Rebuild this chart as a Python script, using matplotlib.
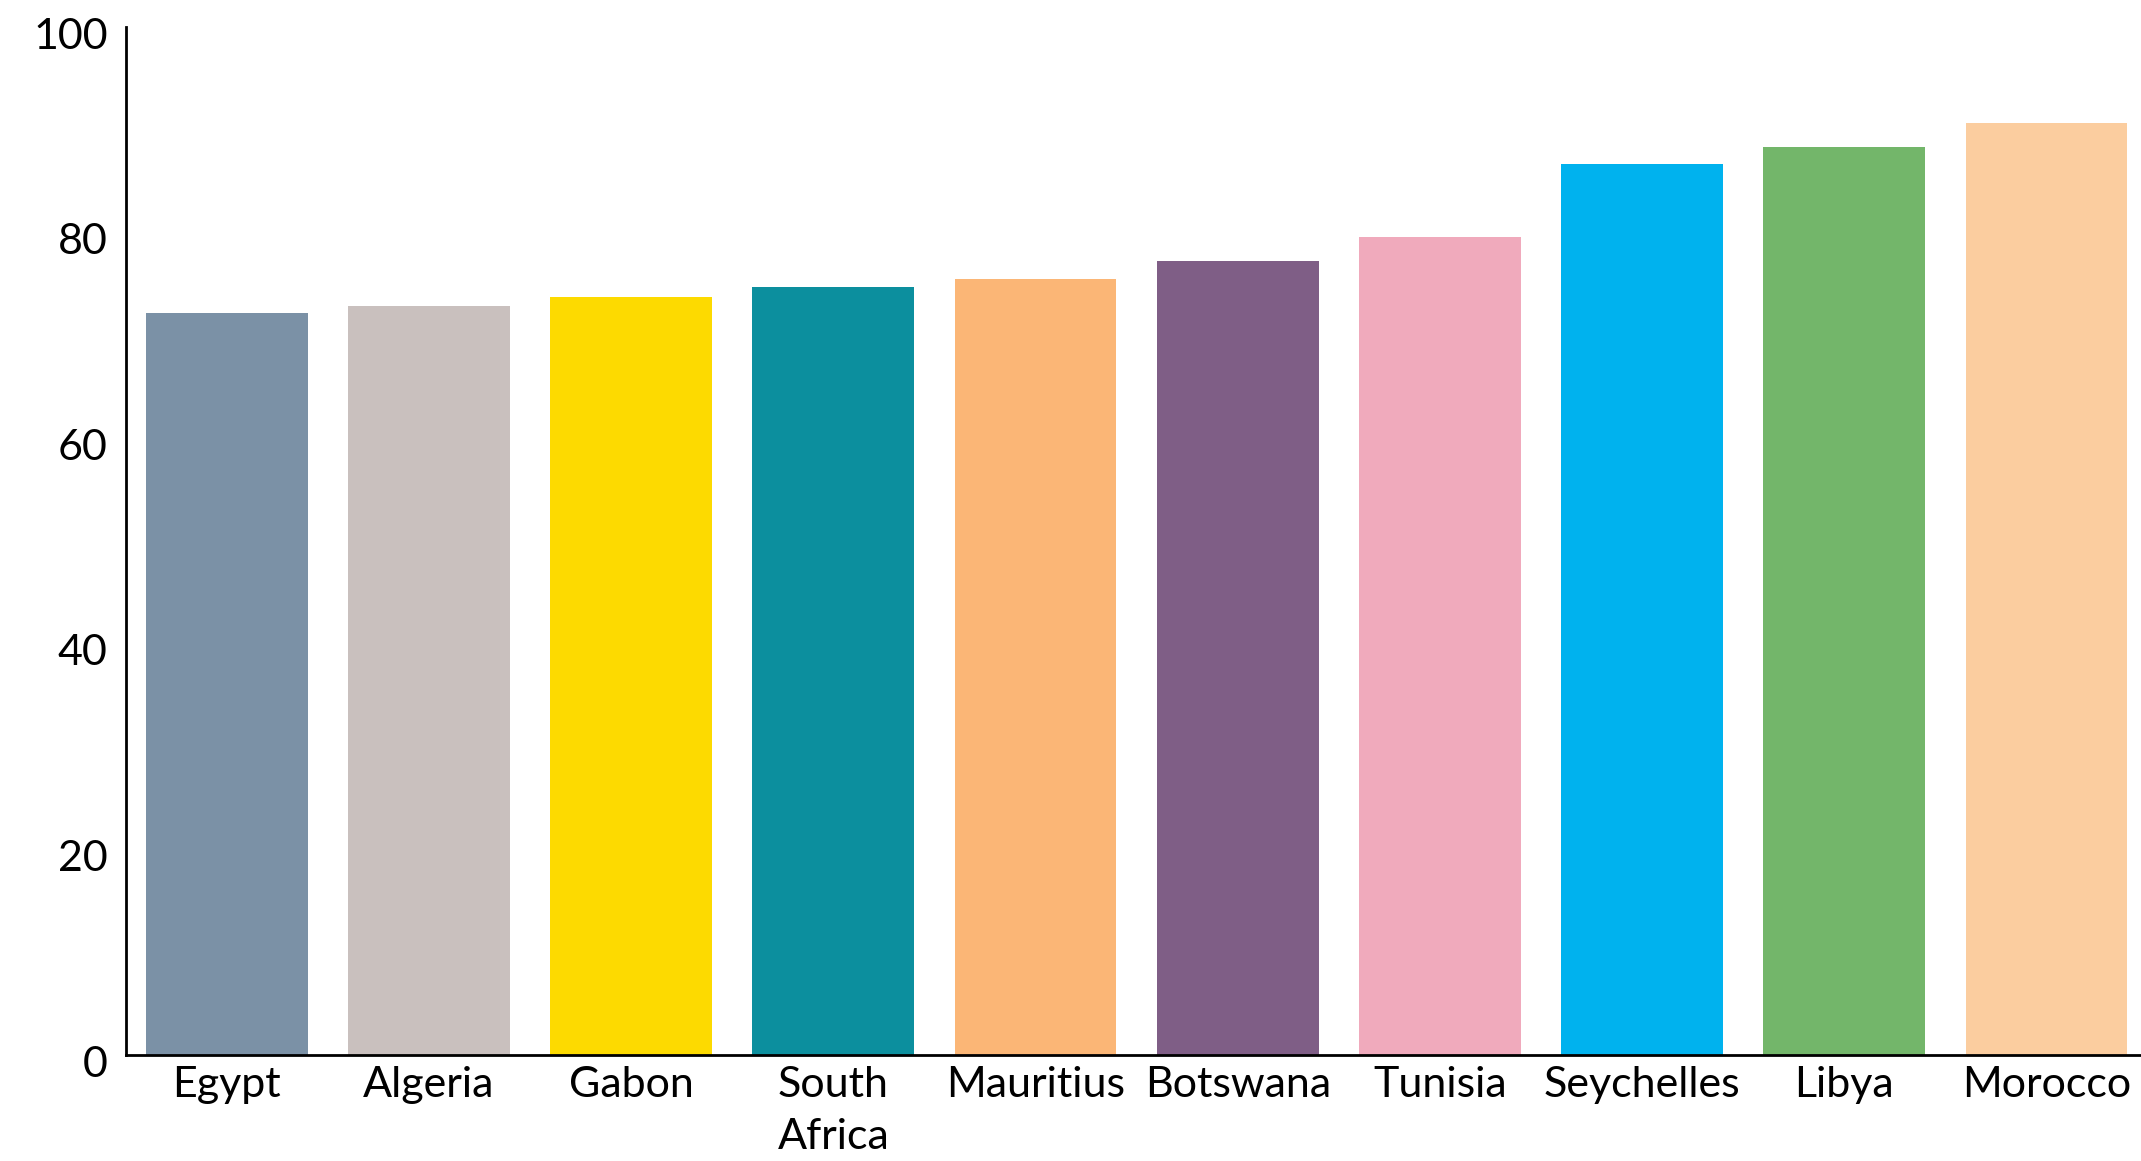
import matplotlib.pyplot as plt
from matplotlib.transforms import ScaledTranslation

countries = ["Egypt", "Algeria", "Gabon", "South\nAfrica", "Mauritius",
             "Botswana", "Tunisia", "Seychelles", "Libya", "Morocco"]
values = [72.2, 72.9, 73.7, 74.7, 75.5, 77.2, 79.6, 86.7, 88.3, 90.7]
colors = ["#7B91A6", "#C9C0BE", "#FDDA00", "#0C8F9E", "#FBB676",
          "#7F5E86", "#F0AABC", "#00B2EE", "#73B66A", "#FBCD9F"]

plt.rcParams['font.family'] = ['Lato', 'DejaVu Sans']

fig = plt.figure(figsize=(21.41, 11.61), dpi=100)
ax = fig.add_axes([0.0587, 0.0913, 0.9413, 0.8854])

x = range(len(countries))
ax.bar(x, values, width=0.8, color=colors)

ax.set_xlim(-0.5, 9.467)
ax.set_ylim(0, 100)
ax.set_yticks([0, 20, 40, 60, 80, 100])
ax.set_xticks(list(x))
ax.set_xticklabels(countries, linespacing=1.45)

for side in ["top", "right"]:
    ax.spines[side].set_visible(False)
for side in ["left", "bottom"]:
    ax.spines[side].set_linewidth(2)

ax.tick_params(axis="both", length=0, labelsize=31)
ax.tick_params(axis="y", pad=13)
ax.tick_params(axis="x", pad=8)

# nudge the value labels a little below their gridline positions
shift = ScaledTranslation(0, -0.06, fig.dpi_scale_trans)
for lbl in ax.get_yticklabels():
    lbl.set_transform(lbl.get_transform() + shift)

fig.savefig("out.png", dpi=100)
